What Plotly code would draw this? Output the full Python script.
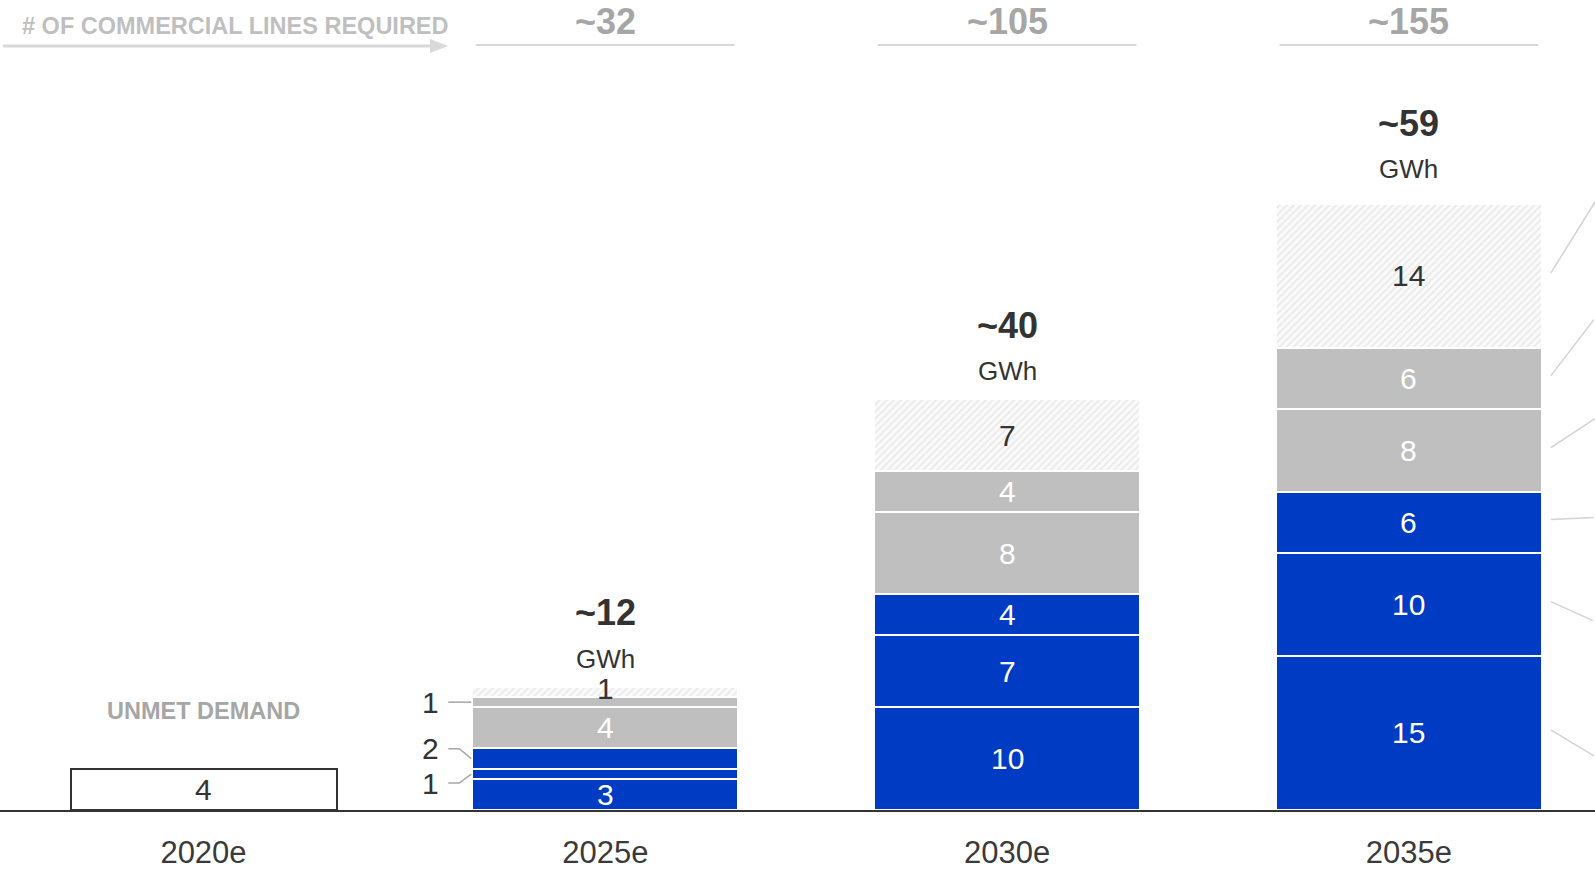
import plotly.graph_objects as go

# ---------------- data ----------------
categories = ["2020e", "2025e", "2030e", "2035e"]
unmet_demand = [4, None, None, None]
blue_1 = [None, 3, 10, 15]
blue_2 = [None, 1, 7, 10]
blue_3 = [None, 2, 4, 6]
gray_1 = [None, 4, 8, 8]
gray_2 = [None, 1, 4, 6]
hatched = [None, 1, 7, 14]
lines_required = [None, 32, 105, 155]
header_label = "# OF COMMERCIAL LINES REQUIRED"
unmet_label = "UNMET DEMAND"
unit_label = "GWh"

# ---------------- styling / geometry ----------------
BLUE = "#003BC4"
GRAY = "#BFBFBF"
DARK = "#333333"
FONT = "Arial, Liberation Sans, sans-serif"
W, H = 1595, 869
BASE_PX = 810          # pixel row of the x axis
X0_PX, XSTEP = 203.5, 401.8
YSCALE = 10.27         # px per unit
BW = 0.662
TOTAL_EXTRA_SHIFT = [0, 0, 0, 7]   # px, per column, for total labels

def xd(px):
    return (px - X0_PX) / XSTEP

def yd(py):
    return (BASE_PX - py) / YSCALE

x = list(range(len(categories)))
series = [
    ("blue_1", blue_1, BLUE, "white", False),
    ("blue_2", blue_2, BLUE, "white", False),
    ("blue_3", blue_3, BLUE, "white", False),
    ("gray_1", gray_1, GRAY, "white", False),
    ("gray_2", gray_2, GRAY, "white", False),
    ("hatched", hatched, "#FAFAFA", DARK, True),
]

fig = go.Figure()

# unmet demand box (2020)
fig.add_trace(go.Bar(
    x=x, y=unmet_demand, width=BW, name="unmet",
    marker=dict(color="white", line=dict(color=DARK, width=2)),
    hoverinfo="skip", showlegend=False,
))

for name, vals, col, _, hatch in series:
    marker = dict(color=col, line=dict(color="white", width=2))
    if hatch:
        marker["pattern"] = dict(shape="/", fgcolor="#E8E8E8", bgcolor="#FAFAFA",
                                 size=5, solidity=0.3, fillmode="replace")
    fig.add_trace(go.Bar(x=x, y=vals, width=BW, name=name, marker=marker,
                         hoverinfo="skip", showlegend=False))

annotations = []
shapes = []

# unmet demand label
for i, v in enumerate(unmet_demand):
    if v is None:
        continue
    annotations.append(dict(x=i, y=v / 2, text=str(v), showarrow=False,
                            font=dict(size=30, color=DARK, family=FONT)))
    annotations.append(dict(x=i, y=v, yshift=58, text=f"<b>{unmet_label}</b>",
                            showarrow=False,
                            font=dict(size=23.5, color="#A6A6A6", family=FONT)))

# segment labels + callouts
left_shift = {"blue_2": 9, "blue_3": -10, "gray_2": 0}
right_offsets = [(43, 26), (42, 19), (43, -2), (44, -29), (43, -56), (46, -74)]
n_cols = len(categories)
for i in range(n_cols):
    cum = 0
    col_has = any(s[1][i] is not None for s in series)
    if not col_has:
        continue
    for k, (name, vals, col, tcol, hatch) in enumerate(series):
        v = vals[i]
        mid = cum + v / 2
        if v >= 3 or hatch:
            annotations.append(dict(x=i, y=mid, yshift=(3 if v < 3 else 0), text=str(v),
                                    showarrow=False,
                                    font=dict(size=30, color=tcol, family=FONT)))
        else:
            sh = left_shift.get(name, 0)
            left = i - BW / 2
            ly = mid - sh / YSCALE
            annotations.append(dict(x=left - 42 / XSTEP, y=ly, text=str(v),
                                    showarrow=False,
                                    font=dict(size=30, color=DARK, family=FONT)))
            pts = [(left - 24 / XSTEP, ly), (left - 13 / XSTEP, ly), (left - 1 / XSTEP, mid)]
            path = "M {} {} L {} {} L {} {}".format(*[c for p in pts for c in p])
            shapes.append(dict(type="path", path=path, xref="x", yref="y",
                               line=dict(color="#A6A6A6", width=1.5)))
        # legend leader lines from the last column
        if i == n_cols - 1:
            dx, dy = right_offsets[k]
            sx = i + BW / 2 + 9 / XSTEP
            sy = mid + 3 / YSCALE
            shapes.append(dict(type="line", xref="x", yref="y",
                               x0=sx, y0=sy, x1=sx + dx / XSTEP, y1=sy - dy / YSCALE,
                               line=dict(color="#D3D3D3", width=1.5)))
        cum += v

    total = cum
    extra = TOTAL_EXTRA_SHIFT[i]
    annotations.append(dict(x=i, y=total, yshift=74 + extra, text=f"<b>~{total}</b>",
                            showarrow=False,
                            font=dict(size=36, color=DARK, family=FONT)))
    annotations.append(dict(x=i, y=total, yshift=28 + extra, text=unit_label,
                            showarrow=False,
                            font=dict(size=26, color=DARK, family=FONT)))

# header: lines required
for i, n in enumerate(lines_required):
    if n is None:
        continue
    annotations.append(dict(x=i, y=yd(21), text=f"<b>~{n}</b>", showarrow=False,
                            font=dict(size=36, color="#A6A6A6", family=FONT)))
    shapes.append(dict(type="line", xref="x", yref="y",
                       x0=i - 0.322, x1=i + 0.322, y0=yd(45), y1=yd(45),
                       line=dict(color="#D9D9D9", width=2)))

annotations.append(dict(x=xd(20), y=yd(26), xanchor="left", text=f"<b>{header_label}</b>",
                        showarrow=False, font=dict(size=23.5, color="#BFBFBF", family=FONT)))
shapes.append(dict(type="line", xref="x", yref="y", x0=xd(3), x1=xd(432),
                   y0=yd(46), y1=yd(46), line=dict(color="#D9D9D9", width=3)))
shapes.append(dict(type="path", xref="x", yref="y",
                   path=f"M {xd(430)} {yd(39)} L {xd(448)} {yd(46)} L {xd(430)} {yd(53)} Z",
                   fillcolor="#D9D9D9", line=dict(width=0)))

fig.update_layout(
    barmode="stack",
    width=W, height=H,
    margin=dict(l=0, r=0, t=0, b=H - BASE_PX),
    plot_bgcolor="white", paper_bgcolor="white",
    showlegend=False,
    annotations=annotations,
    shapes=shapes,
    bargap=0,
    xaxis=dict(range=[xd(0), xd(W)], tickvals=x, ticktext=categories,
               tickfont=dict(size=31, color="#3A3A3A", family=FONT),
               ticklabelstandoff=14,
               showline=True, linecolor=DARK, linewidth=2, showgrid=False,
               zeroline=False, ticks="", fixedrange=True),
    yaxis=dict(range=[0, yd(0)], visible=False, showgrid=False, zeroline=False),
    font=dict(family=FONT),
)

fig.write_html("out.html")
